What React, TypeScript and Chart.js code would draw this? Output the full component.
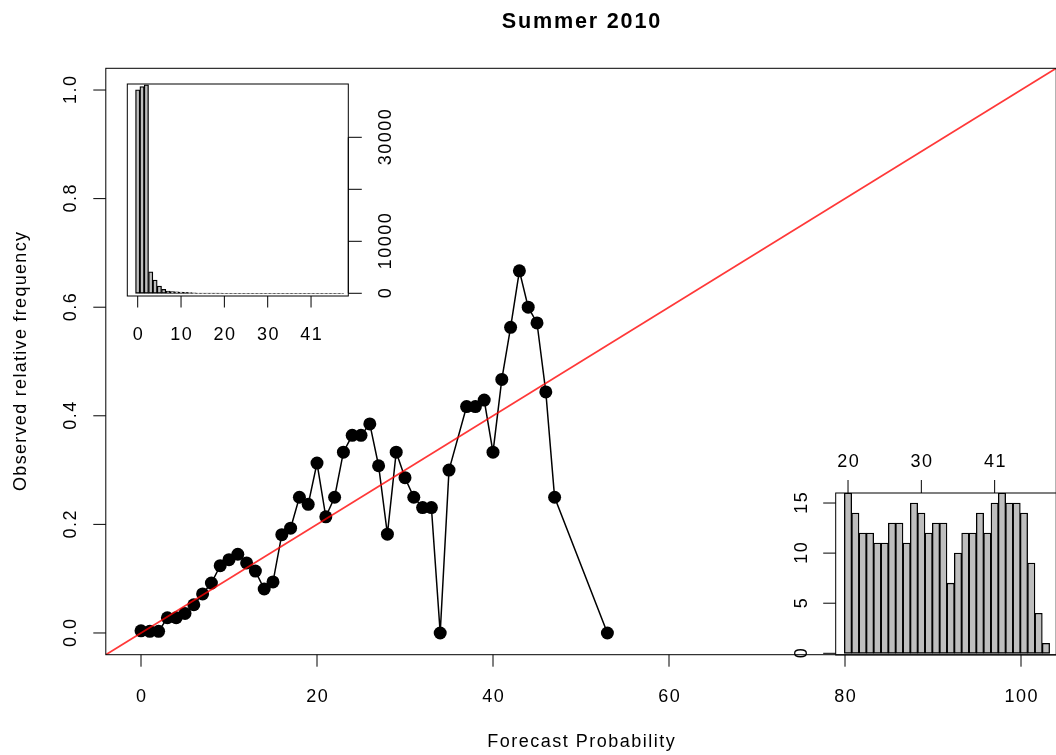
import React, { useEffect, useRef } from "react";
import { Chart, registerables } from "chart.js";

Chart.register(...registerables);

// ---------- data ----------
const forecastProb = [
  0, 1, 2, 3, 4, 5, 6, 7, 8, 9, 10, 11, 12, 13, 14, 15, 16, 17, 18, 19,
  20, 21, 22, 23, 24, 25, 26, 27, 28, 29, 30, 31, 32, 33, 34, 35,
  37, 38, 39, 40, 41, 42, 43, 44, 45, 46, 47, 53,
];
const observedFreq = [
  0.004, 0.003, 0.003, 0.028, 0.028, 0.036, 0.052, 0.072, 0.092, 0.124,
  0.135, 0.145, 0.129, 0.114, 0.081, 0.094, 0.181, 0.193, 0.25, 0.237,
  0.313, 0.214, 0.25, 0.333, 0.364, 0.364, 0.385, 0.308, 0.182, 0.333,
  0.286, 0.25, 0.231, 0.231, 0, 0.3,
  0.417, 0.417, 0.429, 0.333, 0.467, 0.563, 0.667, 0.6, 0.571, 0.444, 0.25, 0,
];
// number of forecasts for each forecast probability (same order as forecastProb)
const forecastCounts = [
  39150, 39750, 40100, 4150, 2560, 1400, 770, 440, 330, 280,
  240, 200, 150, 70, 37, 32, 22, 26, 20, 38,
  16, 14, 12, 12, 11, 11, 13, 13, 11, 15,
  14, 12, 13, 13, 7, 10,
  12, 12, 14, 12, 15, 16, 15, 15, 14, 9, 4, 1,
];
const mainXTicks = [0, 20, 40, 60, 80, 100];
const mainYTicks = [0, 0.2, 0.4, 0.6, 0.8, 1.0];
const refLineX = [-4, 104];
const histXTickIdx = [0, 10, 20, 30, 40];
const histYTicks = [0, 10000, 20000, 30000];
const histYTickLabels = ["0", "10000", "", "30000"];
const zoomXTickIdx = [20, 30, 40];
const zoomYTicks = [0, 5, 10, 15];
const zoomFirstIdx = 20;

const TITLE = "Summer 2010";
const XTITLE = "Forecast Probability";
const YTITLE = "Observed relative frequency";

// ---------- layout ----------
const CW = 1070;
const CH = 755;
const FONT = '18px "Liberation Sans", Arial, Helvetica, sans-serif';
const FONT_B = 'bold 21.6px "Liberation Sans", Arial, Helvetica, sans-serif';

function drawText(
  ctx: CanvasRenderingContext2D,
  s: string,
  x: number,
  y: number,
  font: string,
  spacing: number,
  rotate = false
) {
  if (!s) return;
  ctx.save();
  ctx.font = font;
  (ctx as any).letterSpacing = spacing + "px";
  ctx.fillStyle = "#000";
  ctx.textAlign = "center";
  ctx.textBaseline = "alphabetic";
  ctx.translate(x, y);
  if (rotate) ctx.rotate(-Math.PI / 2);
  ctx.fillText(s, spacing / 2, 0);
  ctx.restore();
}

function line(ctx: CanvasRenderingContext2D, x1: number, y1: number, x2: number, y2: number) {
  ctx.beginPath();
  ctx.moveTo(x1, y1);
  ctx.lineTo(x2, y2);
  ctx.stroke();
}

const mainAxes = {
  id: "mainAxes",
  afterDraw(chart: any) {
    const ctx: CanvasRenderingContext2D = chart.ctx;
    const { left, right, top, bottom } = chart.chartArea;
    const xs = chart.scales.x;
    const ys = chart.scales.y;
    ctx.save();
    ctx.strokeStyle = "#000";
    ctx.lineWidth = 1;
    ctx.strokeRect(left, top, right - left, bottom - top);
    mainXTicks.forEach((v) => {
      const px = xs.getPixelForValue(v);
      line(ctx, px, bottom, px, bottom + 12);
      drawText(ctx, String(v), px, 701.5, FONT, 1.5);
    });
    mainYTicks.forEach((v) => {
      const py = ys.getPixelForValue(v);
      line(ctx, left, py, left - 12.5, py);
      drawText(ctx, v.toFixed(1), 76, py, FONT, 1.5, true);
    });
    const cx = (left + 1056.2) / 2;
    drawText(ctx, TITLE, cx, 28, FONT_B, 1.8);
    drawText(ctx, XTITLE, cx, 746.7, FONT, 1.5);
    drawText(ctx, YTITLE, 26, (top + bottom) / 2, FONT, 1.3, true);
    ctx.restore();
  },
};

const histAxes = {
  id: "histAxes",
  afterDraw(chart: any) {
    const ctx: CanvasRenderingContext2D = chart.ctx;
    const { left, right, top, bottom } = chart.chartArea;
    const xs = chart.scales.x;
    const ys = chart.scales.y;
    ctx.save();
    ctx.strokeStyle = "#000";
    ctx.lineWidth = 1;
    ctx.strokeRect(left, top, right - left, bottom - top);
    histXTickIdx.forEach((i) => {
      const px = xs.getPixelForValue(i);
      line(ctx, px, bottom, px, bottom + 11.5);
      drawText(ctx, String(forecastProb[i]), px, 340, FONT, 1.5);
    });
    const y0 = ys.getPixelForValue(histYTicks[0]);
    const y1 = ys.getPixelForValue(histYTicks[histYTicks.length - 1]);
    line(ctx, right, y0, right, y1);
    histYTicks.forEach((v, k) => {
      const py = ys.getPixelForValue(v);
      line(ctx, right, py, right + 13.5, py);
      drawText(ctx, histYTickLabels[k], 391, py, FONT, 1.5, true);
    });
    ctx.restore();
  },
};

const zoomAxes = {
  id: "zoomAxes",
  afterDraw(chart: any) {
    const ctx: CanvasRenderingContext2D = chart.ctx;
    const { left, right, top, bottom } = chart.chartArea;
    const xs = chart.scales.x;
    const ys = chart.scales.y;
    ctx.save();
    ctx.strokeStyle = "#000";
    ctx.lineWidth = 1;
    ctx.strokeRect(left, top, right - left, bottom - top);
    zoomXTickIdx.forEach((i) => {
      const px = xs.getPixelForValue(i);
      line(ctx, px, top, px, top - 13);
      drawText(ctx, String(forecastProb[i]), px, 467, FONT, 1.5);
    });
    zoomYTicks.forEach((v) => {
      const py = ys.getPixelForValue(v);
      line(ctx, left, py, left - 12.5, py);
      drawText(ctx, String(v), 806.5, py, FONT, 1.5, true);
    });
    ctx.restore();
  },
};

export default function App() {
  const mainRef = useRef<HTMLCanvasElement>(null);
  const histRef = useRef<HTMLCanvasElement>(null);
  const zoomRef = useRef<HTMLCanvasElement>(null);

  useEffect(() => {
    const charts: Chart[] = [];

    charts.push(
      new Chart(mainRef.current as HTMLCanvasElement, {
        type: "scatter",
        data: {
          datasets: [
            {
              label: "perfect reliability",
              data: refLineX.map((x) => ({ x, y: x / 100 })),
              showLine: true,
              borderColor: "rgba(255,0,0,0.78)",
              borderWidth: 1.8,
              pointRadius: 0,
              order: 0,
            },
            {
              label: "observed",
              data: forecastProb.map((x, i) => ({ x, y: observedFreq[i] })),
              showLine: true,
              borderColor: "#000",
              borderWidth: 1.5,
              pointRadius: 6.5,
              pointBackgroundColor: "#000",
              pointBorderWidth: 0,
              order: 1,
            },
          ] as any,
        },
        options: {
          responsive: false,
          animation: false,
          devicePixelRatio: 1,
          layout: { padding: { left: 105.8, top: 68.3, right: CW - 1056.2, bottom: CH - 654.7 } },
          scales: {
            x: { type: "linear", min: -4, max: 104, display: false },
            y: { type: "linear", min: -0.04, max: 1.04, display: false },
          },
          plugins: { legend: { display: false }, tooltip: { enabled: false } },
        } as any,
        plugins: [mainAxes],
      })
    );

    charts.push(
      new Chart(histRef.current as HTMLCanvasElement, {
        type: "bar",
        data: {
          datasets: [
            {
              data: forecastCounts.map((c, i) => ({ x: i, y: c })),
              backgroundColor: "#bebebe",
              borderColor: "#000",
              borderWidth: 1.3,
              borderSkipped: false,
              barPercentage: 1,
              categoryPercentage: 1,
              clip: 0,
            },
          ] as any,
        },
        options: {
          responsive: false,
          animation: false,
          devicePixelRatio: 1,
          layout: { padding: { left: 127.3, top: 84, right: CW - 348.3, bottom: CH - 296 } },
          scales: {
            x: { type: "linear", min: -2.4, max: 48.6, offset: false, display: false },
            y: { type: "linear", min: -520, max: 40250, display: false },
          },
          plugins: { legend: { display: false }, tooltip: { enabled: false } },
        } as any,
        plugins: [histAxes],
      })
    );

    charts.push(
      new Chart(zoomRef.current as HTMLCanvasElement, {
        type: "bar",
        data: {
          datasets: [
            {
              data: forecastCounts
                .map((c, i) => ({ x: i, y: c }))
                .filter((d) => d.x >= zoomFirstIdx),
              backgroundColor: "#bebebe",
              borderColor: "#000",
              borderWidth: 1.3,
              borderSkipped: false,
              barPercentage: 1,
              categoryPercentage: 1,
              clip: 0,
            },
          ] as any,
        },
        options: {
          responsive: false,
          animation: false,
          devicePixelRatio: 1,
          layout: { padding: { left: 835.7, top: 493, right: CW - 1064.3, bottom: CH - 655 } },
          scales: {
            x: { type: "linear", min: 18.32, max: 49.5, offset: false, display: false },
            y: { type: "linear", min: -0.17, max: 16, display: false },
          },
          plugins: { legend: { display: false }, tooltip: { enabled: false } },
        } as any,
        plugins: [zoomAxes],
      })
    );

    return () => charts.forEach((c) => c.destroy());
  }, []);

  const cs: React.CSSProperties = { position: "absolute", left: 0, top: 0 };
  return (
    <div
      style={{
        position: "fixed",
        left: 0,
        top: 0,
        width: 1056,
        height: 755,
        overflow: "hidden",
        background: "#fff",
      }}
    >
      <canvas ref={mainRef} width={CW} height={CH} style={cs} />
      <canvas ref={histRef} width={CW} height={CH} style={cs} />
      <canvas ref={zoomRef} width={CW} height={CH} style={cs} />
    </div>
  );
}
